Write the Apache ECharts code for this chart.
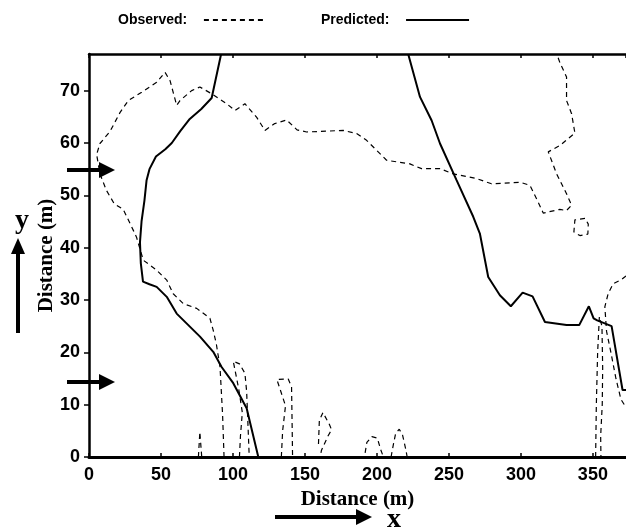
<!DOCTYPE html>
<html>
<head>
<meta charset="utf-8">
<script src="https://cdn.jsdelivr.net/npm/echarts@6/dist/echarts.min.js"></script>
<style>
html, body { margin: 0; padding: 0; background: #fff; }
#chart { width: 626px; height: 529px; }
</style>
</head>
<body>
<div id="chart"></div>
<script>
// axis ranges (m)
const xMax = 373;
const yMax = 77;

// predicted boundary (solid)
const predLeft = [[91.7,76.9],[85.2,68.6],[78,66.5],[70,64.6],[63.5,62.3],[57.5,60],[53,58.8],[46.5,57.4],[42,55],[40,52.9],[38.5,49],[36.5,45],[35.4,41],[36,37],[37.5,33.5],[42,33],[47,32.5],[54,30.6],[60.9,27.4],[69,25.2],[77.1,23],[86.3,20.1],[92.1,17.2],[100.2,14.1],[109.5,9.3],[117.6,0]];
const predRight = [[221.8,76.9],[229.9,68.8],[238,64.3],[243.8,59.9],[255.3,52.9],[266.9,45.9],[271.5,42.7],[277.3,34.4],[285.4,30.9],[293,28.8],[301.2,31.4],[308.1,30.7],[316.7,25.8],[331.7,25.2],[340.5,25.2],[347.2,28.8],[350.5,26.5],[353,26.1],[363,25],[370.6,12.8],[373,12.8]];

// observed boundary pieces (dashed)
const obsMain = [[93.8,0],[92.8,8],[91,17.2],[88.5,21.5],[86.3,24.2],[84,26.5],[74.8,28.4],[65.5,29.3],[58.5,31.2],[54,33.8],[47,35.7],[37.7,37.6],[33,42],[30.8,43.3],[23.8,47.3],[17.5,48.4],[12,51],[7.6,54.1],[5.3,57.8],[7.6,59.9],[14.6,62.2],[21.5,65.8],[27.3,68.1],[36.6,69.7],[47,71.6],[52.8,73.5],[56.3,71.9],[60.9,67.2],[63.2,68.1],[71.3,70],[77,70.7],[85.2,69.4],[95.6,67.5],[101.4,66.2],[108.3,67.5],[116.5,64.9],[122.2,62.4],[129,63.7],[137.3,64.4],[144.5,62.5],[151.2,62.1],[176.6,62.4],[185.9,61.8],[192.8,60.5],[199.8,58.6],[206.7,56.7],[222.9,56],[231,55.1],[243.8,55.1],[253,54.1],[269.2,53.2],[279.6,52.2],[299.3,52.5],[306.3,51.9],[312,48.7],[315.5,46.6],[327,47.3],[331.7,47.1],[335.2,48.1],[331.7,50.3],[324.8,54.1],[319,58.3],[327,59.5],[337.5,61.9],[335.2,65.6],[331.7,68.1],[331.7,72.6],[327,75.4],[325,77]];
const obsIsland = [[344.5,45.6],[337.5,45.3],[336.8,43],[341,42.3],[346.5,42.6],[346.8,44.5],[344.5,45.6]];
const obsEdge = [[373,34.6],[369.9,33.9],[364.1,33.1],[360.6,31.2],[358.3,28.7],[359.5,24],[362.5,20],[366,15],[369.5,11],[373,9.5]];
const obsLoop350 = [[351.9,0],[352.4,10],[353.3,20],[354.5,26.8],[356.3,25],[356.8,17],[356.5,10],[355.4,4],[355.6,0]];
const obsBit77 = [[76,0],[77,4.8],[78.3,0]];
const obsBit105 = [[104.5,0],[105.2,4],[106.5,8.5],[104,13],[100.2,18.3],[104.5,17.8],[108.3,16],[109.5,12.5],[110.3,7],[111.3,0]];
const obsBit135 = [[133.6,0],[134.5,5],[136.5,9.8],[130.5,14.8],[138.4,14.9],[140.7,13.4],[141.1,6],[141.4,0]];
const obsBit162 = [[159.4,2.5],[160,7],[162.5,8.5],[167,6.2],[168.5,5.2],[166,4],[161.5,1.3],[160.5,0]];
const obsBit195 = [[191.8,0.8],[193,2.8],[196.5,3.9],[200.3,3.6],[202.5,1.5],[204.5,0]];
const obsBit215 = [[209.8,0],[211.5,2.5],[213,4.5],[215.5,5.3],[217.8,4.2],[220,1.5],[221,0]];

const obsPieces = [obsMain, obsIsland, obsEdge, obsLoop350, obsBit77, obsBit105, obsBit135, obsBit162, obsBit195, obsBit215];
const predPieces = [predLeft, predRight];

const chart = echarts.init(document.getElementById('chart'));

function lineSeries(name, data, width, type) {
  return {
    name: name,
    type: 'line',
    data: data,
    symbol: 'none',
    silent: true,
    itemStyle: { color: '#000' },
    lineStyle: { color: '#000', width: width, type: type }
  };
}

const series = [];
obsPieces.forEach(p => series.push(lineSeries('Observed', p, 1.2, [5, 4])));
predPieces.forEach(p => series.push(lineSeries('Predicted', p, 2, 'solid')));

const tickFont = { fontFamily: 'Liberation Sans', fontWeight: 'bold', fontSize: 18, color: '#000' };
const nameFont = { fontFamily: 'Liberation Serif', fontWeight: 'bold', fontSize: 21, color: '#000' };

// arrow helper (annotation marks outside the data)
function hArrow(x0, x1, y) {
  return [
    { type: 'rect', shape: { x: x0, y: y - 2, width: x1 - x0 - 14, height: 4 }, style: { fill: '#000' } },
    { type: 'polygon', shape: { points: [[x1 - 16, y - 8], [x1, y], [x1 - 16, y + 8]] }, style: { fill: '#000' } }
  ];
}

const graphics = [].concat(
  hArrow(67, 115, 170),
  hArrow(67, 115, 382),
  hArrow(275, 372, 517),
  [
    { type: 'rect', shape: { x: 16, y: 250, width: 4, height: 83 }, style: { fill: '#000' } },
    { type: 'polygon', shape: { points: [[11, 254], [18, 238], [25, 254]] }, style: { fill: '#000' } },
    { type: 'text', x: 22, y: 221, style: { text: 'y', font: 'bold 28px "Liberation Serif"', fill: '#000', align: 'center', verticalAlign: 'middle' } },
    { type: 'text', x: 394, y: 520, style: { text: 'x', font: 'bold 28px "Liberation Serif"', fill: '#000', align: 'center', verticalAlign: 'middle' } }
  ]
);

chart.setOption({
  animation: false,
  backgroundColor: '#fff',
  grid: { left: 89, top: 54, right: 0, bottom: 72 },
  legend: {
    data: ['Observed', 'Predicted'],
    left: 113,
    top: 8,
    align: 'right',
    itemWidth: 63,
    itemHeight: 14,
    itemGap: 53,
    formatter: name => name + ':   ',
    itemStyle: { opacity: 0 },
    textStyle: { fontFamily: 'Liberation Sans', fontWeight: 'bold', fontSize: 14, color: '#000' }
  },
  xAxis: [
    {
      type: 'value', position: 'bottom', min: 0, max: xMax, interval: 50,
      name: 'Distance (m)', nameLocation: 'middle', nameGap: 31, nameTextStyle: nameFont,
      axisLine: { onZero: false, lineStyle: { color: '#000', width: 3 } },
      axisTick: { inside: true, length: 4, lineStyle: { color: '#000', width: 1.5 } },
      axisLabel: Object.assign({ margin: 9, showMaxLabel: false }, tickFont),
      splitLine: { show: false }
    },
    {
      type: 'value', position: 'top', min: 0, max: xMax, interval: 50,
      axisLine: { onZero: false, lineStyle: { color: '#000', width: 2.5 } },
      axisTick: { inside: true, length: 4, lineStyle: { color: '#000', width: 1.5 } },
      axisLabel: { show: false },
      splitLine: { show: false }
    }
  ],
  yAxis: {
    type: 'value', min: 0, max: yMax, interval: 10,
    name: 'Distance (m)', nameLocation: 'middle', nameGap: 32, nameMoveOverlap: false, nameTextStyle: nameFont,
    axisLine: { onZero: false, lineStyle: { color: '#000', width: 2.5 } },
    axisTick: { length: 5, lineStyle: { color: '#000', width: 1.5 } },
    axisLabel: Object.assign({ margin: 9, showMaxLabel: false }, tickFont),
    splitLine: { show: false }
  },
  graphic: graphics,
  series: series
});
</script>
</body>
</html>
